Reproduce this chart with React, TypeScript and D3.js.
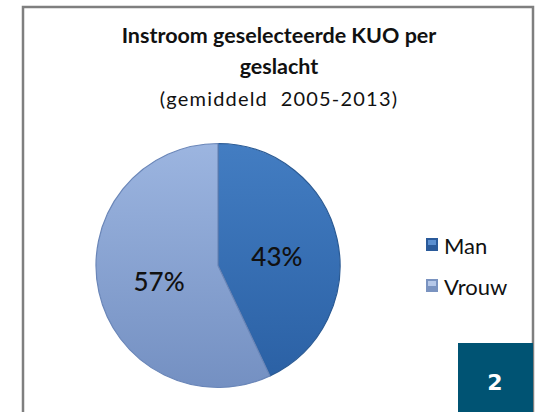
import React, { useEffect, useRef } from 'react';
import * as d3 from 'd3';

// Inflow of selected KUO by gender, average 2005-2013
const categories = ['Man', 'Vrouw'];
const values = [43, 57];
const titleLines = ['Instroom geselecteerde KUO per', 'geslacht'];
const subtitle = '(gemiddeld  2005-2013)';
const badge = '2';

const W = 537;
const H = 412;

const App = () => {
  const svgRef = useRef<SVGSVGElement | null>(null);

  useEffect(() => {
    if (!svgRef.current) return;
    const svg = d3.select(svgRef.current);
    svg.selectAll('*').remove();

    const defs = svg.append('defs');
    const grads = [
      { id: 'gMan', top: '#437dc2', bottom: '#2b61a5' },
      { id: 'gVrouw', top: '#9cb5e0', bottom: '#7490c2' },
    ];
    grads.forEach(g => {
      const lg = defs.append('linearGradient')
        .attr('id', g.id).attr('x1', 0).attr('y1', 0).attr('x2', 0).attr('y2', 1);
      lg.append('stop').attr('offset', '0%').attr('stop-color', g.top);
      lg.append('stop').attr('offset', '100%').attr('stop-color', g.bottom);
    });
    const strokeCols = ['#2a5a94', '#6a86b8'];

    // chart frame (open at the bottom)
    svg.append('rect').attr('x', 0).attr('y', 0).attr('width', W).attr('height', H).attr('fill', '#fff');
    svg.append('path')
      .attr('d', `M23,${H} L23,7 L533,7 L533,${H}`)
      .attr('fill', 'none').attr('stroke', '#7f7f7f').attr('stroke-width', 2.5);

    // title
    const font = 'Lato, "Open Sans", sans-serif';
    titleLines.forEach((t, i) => {
      svg.append('text')
        .attr('x', 279).attr('y', 43 + i * 31)
        .attr('text-anchor', 'middle')
        .attr('font-family', font).attr('font-weight', 700)
        .attr('font-size', 21.5).attr('fill', '#111')
        .text(t);
    });
    svg.append('text')
      .attr('x', 279).attr('y', 106)
      .attr('text-anchor', 'middle')
      .attr('font-family', font).attr('font-size', 20).attr('fill', '#111')
      .attr('letter-spacing', 1.2)
      .style('white-space', 'pre')
      .text(subtitle);

    // pie
    const cx = 218, cy = 265.5, R = 122;
    const pie = d3.pie<number>().sort(null).value(d => d);
    const arcs = pie(values);
    const arc = d3.arc<d3.PieArcDatum<number>>().innerRadius(0).outerRadius(R);
    const g = svg.append('g').attr('transform', `translate(${cx},${cy})`);
    g.selectAll('path.slice').data(arcs).enter().append('path')
      .attr('class', 'slice')
      .attr('d', arc)
      .attr('fill', (_, i) => `url(#${grads[i].id})`)
      .attr('stroke', (_, i) => strokeCols[i])
      .attr('stroke-width', 1.2);

    const labelArc = d3.arc<d3.PieArcDatum<number>>().innerRadius(R * 0.52).outerRadius(R * 0.52);
    const offsets = [[-3, 4], [3, 2]];
    g.selectAll('text.lbl').data(arcs).enter().append('text')
      .attr('class', 'lbl')
      .attr('x', (d, i) => labelArc.centroid(d)[0] + offsets[i][0])
      .attr('y', (d, i) => labelArc.centroid(d)[1] + offsets[i][1])
      .attr('text-anchor', 'middle').attr('dominant-baseline', 'central')
      .attr('font-family', font).attr('font-weight', 500)
      .attr('font-size', 26).attr('fill', '#111')
      .text(d => `${d.data}%`);

    // legend
    const legendCols = [['#5b8fd0', '#2a5a9a'], ['#b6c8e8', '#7a93c0']];
    const lg = svg.append('g').attr('transform', 'translate(426,245)');
    categories.forEach((c, i) => {
      const row = lg.append('g').attr('transform', `translate(0,${i * 41})`);
      row.append('rect').attr('x', 0).attr('y', -7).attr('width', 12).attr('height', 13)
        .attr('fill', legendCols[i][1]);
      row.append('rect').attr('x', 2).attr('y', -5).attr('width', 8).attr('height', 5)
        .attr('fill', legendCols[i][0]);
      row.append('text').attr('x', 18).attr('y', 0)
        .attr('dominant-baseline', 'central')
        .attr('font-family', font).attr('font-size', 22).attr('fill', '#111')
        .text(c);
    });

    // page badge
    svg.append('rect').attr('x', 458).attr('y', 343).attr('width', 75).attr('height', H - 343)
      .attr('fill', '#005373');
    svg.append('text').attr('x', 495).attr('y', 382)
      .attr('text-anchor', 'middle').attr('dominant-baseline', 'central')
      .attr('font-family', '"DejaVu Sans", sans-serif').attr('font-weight', 700)
      .attr('font-size', 22).attr('fill', '#fff')
      .text(badge);
  }, []);

  return (
    <div style={{ position: 'fixed', left: 0, top: 0 }}>
      <svg ref={svgRef} width={W} height={H} style={{ display: 'block' }} />
    </div>
  );
};

export default App;
